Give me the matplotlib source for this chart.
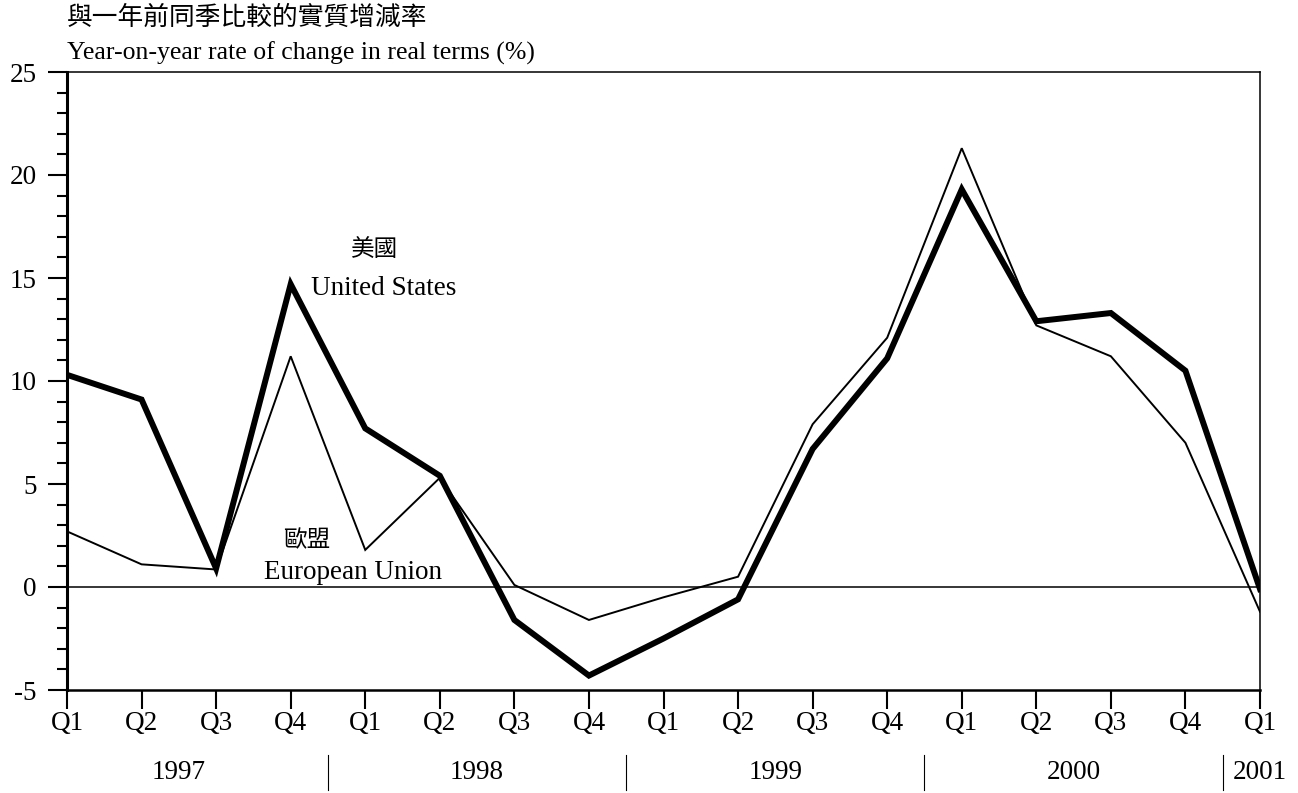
import numpy as np
import matplotlib.pyplot as plt
import matplotlib.transforms as mtransforms
from matplotlib.ticker import MultipleLocator

plt.rcParams['font.family'] = ['Liberation Serif', 'Noto Sans CJK TC']
plt.rcParams['axes.unicode_minus'] = False

quarters = ["Q1", "Q2", "Q3", "Q4"] * 4 + ["Q1"]
years = ["1997", "1998", "1999", "2000", "2001"]
us = [10.3, 9.1, 0.9, 14.7, 7.7, 5.4, -1.6, -4.3, -2.5, -0.6, 6.7, 11.1, 19.3, 12.9, 13.3, 10.5, -0.1]
eu = [2.7, 1.1, 0.85, 11.2, 1.8, 5.3, 0.1, -1.6, -0.5, 0.5, 7.9, 12.1, 21.3, 12.7, 11.2, 7.0, -1.2]

x = np.arange(len(quarters))

fig = plt.figure(figsize=(12.98, 7.93), dpi=100)
ax = fig.add_axes([67/1298, 1 - 690/793, (1260 - 67)/1298, (690 - 72)/793])

ax.plot(x, eu, color="black", lw=1.4, solid_joinstyle="miter", zorder=3)
ax.plot(x, us, color="black", lw=4.3, solid_joinstyle="miter", zorder=4)
ax.axhline(0, color="black", lw=1.1, zorder=2)

ax.set_xlim(0, 16)
ax.set_ylim(-5, 25)

# ticks del eje y
ax.yaxis.set_major_locator(MultipleLocator(5))
ax.yaxis.set_minor_locator(MultipleLocator(1))
ax.tick_params(axis="y", which="major", direction="out", length=14, width=1.5, pad=8, labelsize=19.5)
ax.tick_params(axis="y", which="minor", direction="out", length=7, width=1.5)
ax.set_xticks(x)
ax.set_xticklabels(quarters)
ax.tick_params(axis="x", which="major", direction="out", length=14, width=1.5, pad=1, labelsize=19.5)

for s in ["top", "right"]:
    ax.spines[s].set_linewidth(1.1)
ax.spines["left"].set_linewidth(2.2)
ax.spines["bottom"].set_linewidth(1.8)

# años debajo de los trimestres
trans = mtransforms.blended_transform_factory(ax.transData, ax.transAxes)
year_pos = [1.5, 5.5, 9.5, 13.5, 16]
for xp, yr in zip(year_pos, years):
    ax.text(xp, -0.133, yr, transform=trans, ha="center", va="center", fontsize=19.5)
for sep in [3.5, 7.5, 11.5, 15.5]:
    ax.plot([sep, sep], [-0.105, -0.162], transform=trans, color="black", lw=0.8, clip_on=False)

# etiquetas de las series
ax.text(4.12, 16.3, "美國", ha="center", va="center", fontsize=17)
ax.text(4.25, 14.5, "United States", ha="center", va="center", fontsize=19.5)
ax.text(3.22, 2.2, "歐盟", ha="center", va="center", fontsize=17)
ax.text(3.83, 0.7, "European Union", ha="center", va="center", fontsize=19.5)

fig.text(67/1298, 1 - 18/793, "與一年前同季比較的實質增減率", ha="left", va="center", fontsize=18.5)
fig.text(67/1298, 1 - 53/793, "Year-on-year rate of change in real terms (%)", ha="left", va="center", fontsize=18.5)

fig.savefig("out.png", dpi=100)
